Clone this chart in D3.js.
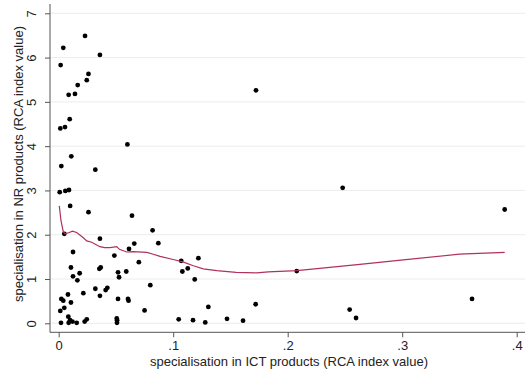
<!DOCTYPE html>
<html>
<head>
<meta charset="utf-8">
<script src="https://cdn.jsdelivr.net/npm/d3@7"></script>
<style>
  body { margin: 0; background: #fff; }
  svg text { font-family: "Liberation Sans", Arial, sans-serif; }
</style>
</head>
<body>
<figure id="chart" style="margin:0"></figure>
<script>
// scatter: ICT specialisation (x) vs NR specialisation (y)
const ictValues = [
  0.023, 0.004, 0.036, 0.0017, 0.026, 0.0245, 0.0166, 0.0142, 0.0087,
  0.0096, 0.0055, 0.0014, 0.060, 0.011, 0.0023, 0.032, 0.009, 0.0058, 0.0009, 0.010,
  0.026, 0.064, 0.0049, 0.082, 0.036, 0.087, 0.066, 0.0614, 0.0125, 0.0486,
  0.070, 0.0107, 0.0367, 0.0355, 0.0183, 0.0125, 0.0518, 0.059, 0.0527, 0.0163,
  0.080, 0.0425, 0.041, 0.032, 0.0081, 0.0215, 0.036, 0.0023, 0.004, 0.0107,
  0.0518, 0.0605, 0.061, 0.0049, 0.0014, 0.075,
  0.002, 0.0084, 0.0099, 0.0087, 0.012, 0.0157, 0.0227, 0.0245, 0.0507, 0.0509, 0.051,
  0.122, 0.107, 0.1127, 0.108, 0.1188, 0.1307, 0.172, 0.1048, 0.1173, 0.128, 0.147, 0.161,
  0.2079, 0.3895, 0.361, 0.2541, 0.2597, 0.1723, 0.248
];
const nrValues = [
  6.49, 6.22, 6.06, 5.83, 5.63, 5.49, 5.38, 5.18, 5.16,
  4.61, 4.43, 4.40, 4.04, 3.77, 3.55, 3.47, 3.01, 2.99, 2.96, 2.65,
  2.51, 2.43, 2.02, 2.10, 1.91, 1.81, 1.80, 1.68, 1.61, 1.53,
  1.38, 1.26, 1.26, 1.23, 1.13, 1.06, 1.15, 1.17, 1.04, 0.97,
  0.86, 0.80, 0.75, 0.78, 0.65, 0.68, 0.62, 0.55, 0.51, 0.47,
  0.55, 0.55, 0.51, 0.35, 0.28, 0.29,
  0.01, 0.15, 0.07, 0.01, 0.04, 0.01, 0.04, 0.09, 0.11, 0.01, 0.07,
  1.47, 1.41, 1.24, 1.17, 0.99, 0.37, 0.43, 0.09, 0.07, 0.02, 0.10, 0.06,
  1.18, 2.57, 0.55, 0.31, 0.12, 5.26, 3.06
];

// smoothed fit line
const fitX = [
  0.0005, 0.002, 0.004, 0.0055, 0.0093, 0.012, 0.0157, 0.0215, 0.0245, 0.0288,
  0.036, 0.040, 0.0448, 0.0507, 0.053, 0.0594, 0.065, 0.077, 0.0826, 0.0885,
  0.100, 0.109, 0.1176, 0.1263, 0.138, 0.155, 0.173, 0.183, 0.208, 0.263,
  0.301, 0.350, 0.3895
];
const fitY = [
  2.65, 2.32, 2.07, 2.02, 2.05, 2.08, 2.05, 1.93, 1.86, 1.83,
  1.73, 1.71, 1.71, 1.73, 1.67, 1.61, 1.62, 1.60, 1.56, 1.51,
  1.44, 1.38, 1.30, 1.23, 1.19, 1.15, 1.14, 1.16, 1.19, 1.33,
  1.43, 1.56, 1.60
];

const xTicks = [0, 0.1, 0.2, 0.3, 0.4];
const yTicks = [0, 1, 2, 3, 4, 5, 6, 7];
const xTitle = 'specialisation in ICT products (RCA index value)';
const yTitle = 'specialisation in NR products (RCA index value)';

const width = 525;
const height = 373;
const axisLeft = 50;
const axisBottom = 332.3;

const svg = d3.select('figure#chart')
  .append('svg')
  .attr('width', width)
  .attr('height', height);

const x = d3.scaleLinear().domain([0, 0.4]).range([58.7, 516.7]);
const y = d3.scaleLinear().domain([0, 7]).range([323.3, 13.3]);

const fmt = v => v === 0 ? '0' : d3.format('.1f')(v).replace(/^0/, '');

// gridlines
svg.append('g')
  .selectAll('line')
  .data(yTicks)
  .enter().append('line')
  .attr('x1', axisLeft)
  .attr('x2', width)
  .attr('y1', d => y(d))
  .attr('y2', d => y(d))
  .attr('stroke', '#ececec')
  .attr('stroke-width', 1);

// x axis
const xAxis = svg.append('g')
  .attr('transform', `translate(0,${axisBottom})`)
  .call(d3.axisBottom(x).tickValues(xTicks).tickFormat(fmt).tickSize(5).tickPadding(3));
xAxis.select('.domain').attr('d', `M${axisLeft},0H${width}`);

// y axis
const yAxis = svg.append('g')
  .attr('transform', `translate(${axisLeft},0)`)
  .call(d3.axisLeft(y).tickValues(yTicks).tickFormat(d3.format('d')).tickSize(5));
yAxis.select('.domain').attr('d', `M0,4V${axisBottom}`);
yAxis.selectAll('.tick text')
  .attr('x', null)
  .attr('dy', null)
  .attr('text-anchor', 'middle')
  .attr('transform', 'translate(-14.5,0) rotate(-90)');

svg.selectAll('.domain, .tick line').attr('stroke', '#555').attr('stroke-width', 1);
svg.selectAll('.tick text').attr('fill', '#222').attr('font-size', 13);

// titles
svg.append('text')
  .attr('x', 289)
  .attr('y', 365.5)
  .attr('text-anchor', 'middle')
  .attr('font-size', 13)
  .attr('fill', '#222')
  .text(xTitle);

svg.append('text')
  .attr('transform', 'translate(22.5,164) rotate(-90)')
  .attr('text-anchor', 'middle')
  .attr('font-size', 13)
  .attr('fill', '#222')
  .text(yTitle);

// points
const points = ictValues.map((v, i) => ({x: v, y: nrValues[i]}));
svg.append('g')
  .selectAll('circle')
  .data(points)
  .enter().append('circle')
  .attr('cx', d => x(d.x))
  .attr('cy', d => y(d.y))
  .attr('r', 2.4)
  .attr('fill', '#000');

// fit line
const line = d3.line()
  .x(d => x(d[0]))
  .y(d => y(d[1]));
svg.append('path')
  .datum(fitX.map((v, i) => [v, fitY[i]]))
  .attr('d', line)
  .attr('fill', 'none')
  .attr('stroke', '#b03060')
  .attr('stroke-width', 1.2);
</script>
</body>
</html>
